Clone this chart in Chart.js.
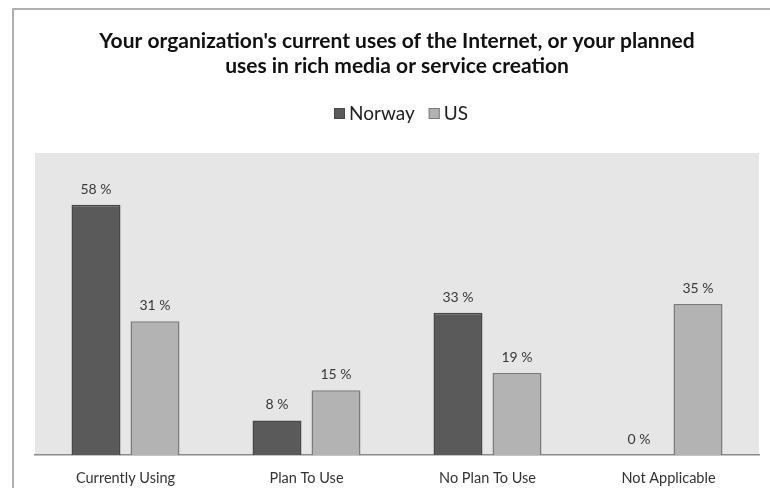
<!DOCTYPE html>
<html>
<head>
<meta charset="utf-8">
<script src="https://cdn.jsdelivr.net/npm/chart.js@4/dist/chart.umd.min.js"></script>
<style>
  html, body { margin: 0; padding: 0; background: #fff; overflow: hidden; }
  #frame { position: absolute; left: 12px; top: 8px; width: 800px; height: 520px; border: 2px solid #b0b0b0; box-sizing: border-box; }
  #wrap { position: absolute; left: 0; top: 0; width: 770px; height: 488px; }
</style>
</head>
<body>
<div id="frame"></div>
<div id="wrap"><canvas id="c" width="770" height="488"></canvas></div>
<script>
// Survey answers, percent of respondents
const categories = ['Currently Using', 'Plan To Use', 'No Plan To Use', 'Not Applicable'];
const norway = [58, 8, 33, 0];
const us = [31, 15, 19, 35];
const seriesNames = ['Norway', 'US'];
const titleLines = [
  "Your organization's current uses of the Internet, or your planned",
  "uses in rich media or service creation"
];
const yMax = 70;

const FONT = 'Lato, "Open Sans", sans-serif';
const FILLS = ['#5a5a5a', '#b3b3b3'];
const EDGES = ['#474747', '#7a7a7a'];

// Light grey panel behind the bars
const plotBackground = {
  id: 'plotBackground',
  beforeDraw(chart) {
    const { ctx, chartArea: a } = chart;
    ctx.save();
    ctx.fillStyle = '#e6e6e6';
    ctx.fillRect(a.left, a.top, a.right - a.left, a.bottom - a.top);
    ctx.restore();
  }
};

// Compact legend row between the title and the plot
const legendRow = {
  id: 'legendRow',
  afterDraw(chart) {
    const { ctx, chartArea: a } = chart;
    const box = 11, gap = 4, spacing = 14, baseline = 119.5;
    ctx.save();
    ctx.font = '19px ' + FONT;
    ctx.textBaseline = 'alphabetic';
    ctx.textAlign = 'left';
    const items = chart.data.datasets.map((ds, i) => ({
      text: ds.label, fill: FILLS[i], edge: EDGES[i],
      w: box + gap + ctx.measureText(ds.label).width
    }));
    const total = items.reduce((s, it) => s + it.w, 0) + spacing * (items.length - 1);
    let x = (a.left + a.right) / 2 + 4 - total / 2;
    items.forEach(it => {
      ctx.fillStyle = it.fill;
      ctx.fillRect(x, baseline - box - 0.5, box, box);
      ctx.strokeStyle = it.edge;
      ctx.lineWidth = 1;
      ctx.strokeRect(x + 0.5, baseline - box, box - 1, box - 1);
      ctx.fillStyle = '#222';
      ctx.fillText(it.text, x + box + gap, baseline);
      x += it.w + spacing;
    });
    ctx.restore();
  }
};

// "NN %" above every bar
const valueLabels = {
  id: 'valueLabels',
  afterDatasetsDraw(chart) {
    const { ctx } = chart;
    ctx.save();
    ctx.font = '14px ' + FONT;
    ctx.fillStyle = '#383838';
    ctx.textAlign = 'center';
    ctx.textBaseline = 'alphabetic';
    chart.data.datasets.forEach((ds, di) => {
      chart.getDatasetMeta(di).data.forEach((bar, i) => {
        ctx.fillText(ds.data[i] + ' %', bar.x, bar.y - 11);
      });
    });
    ctx.restore();
  }
};

new Chart(document.getElementById('c'), {
  type: 'bar',
  data: {
    labels: categories,
    datasets: [
      {
        label: seriesNames[0],
        data: norway,
        backgroundColor: FILLS[0],
        borderColor: EDGES[0],
        borderWidth: 1.5,
        categoryPercentage: 0.652,
        barPercentage: 0.83
      },
      {
        label: seriesNames[1],
        data: us,
        backgroundColor: FILLS[1],
        borderColor: EDGES[1],
        borderWidth: 1.5,
        categoryPercentage: 0.652,
        barPercentage: 0.83
      }
    ]
  },
  options: {
    responsive: false,
    animation: false,
    layout: { padding: { left: 35, right: 11, top: 0, bottom: 0 } },
    plugins: {
      title: {
        display: true,
        text: titleLines,
        color: '#111',
        font: { family: FONT, size: 21, weight: 'bold', lineHeight: '25px' },
        padding: { top: 29, bottom: 74 }
      },
      legend: { display: false },
      tooltip: { enabled: false }
    },
    scales: {
      x: {
        grid: { display: false, drawTicks: false },
        border: { display: true, color: '#8a8a8a', width: 1.5 },
        ticks: { color: '#333', font: { family: FONT, size: 14.5 }, padding: 15 },
        afterFit(scale) { scale.height = 33; }
      },
      y: {
        display: false,
        min: 0,
        max: yMax
      }
    }
  },
  plugins: [plotBackground, valueLabels, legendRow]
});
</script>
</body>
</html>
